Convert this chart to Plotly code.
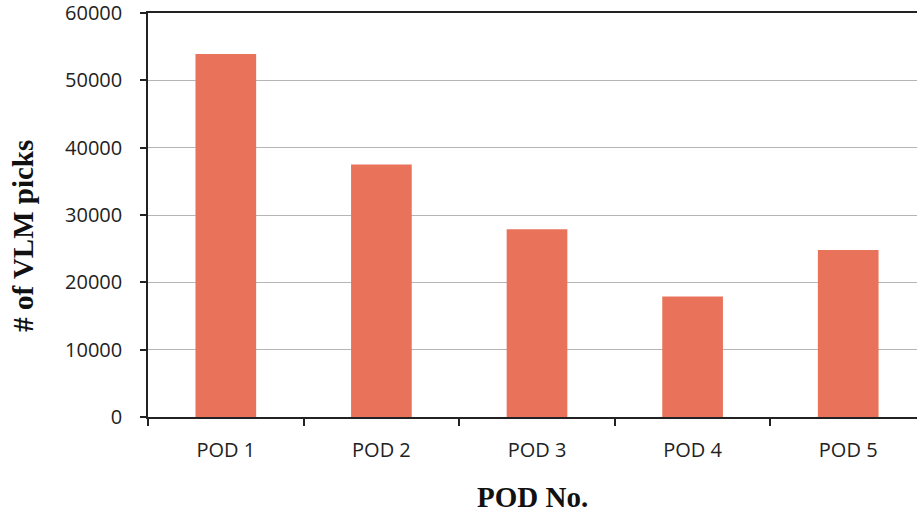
import plotly.graph_objects as go

categories = ["POD 1", "POD 2", "POD 3", "POD 4", "POD 5"]
vlm_picks = [53900, 37500, 27900, 17900, 24800]
y_ticks = [0, 10000, 20000, 30000, 40000, 50000, 60000]

fig = go.Figure()
fig.add_trace(go.Bar(
    x=categories, y=vlm_picks,
    marker=dict(color="#E9735A", line=dict(width=0)),
    width=0.39,
))

tick_font = dict(family="Open Sans, sans-serif", size=20, color="#222222")
title_font = dict(family="Liberation Serif, Times New Roman, serif", size=29, color="#111111")

# The reference plot area runs slightly past the right edge of the picture,
# and the figure is 20px taller at the top; the page is shifted up by 20px.
fig.update_layout(
    width=926, height=533,
    margin=dict(l=148, r=0, t=33, b=96),
    paper_bgcolor="white", plot_bgcolor="white",
    showlegend=False,
    xaxis=dict(
        type="category",
        tickson="boundaries",
        ticks="outside", ticklen=7, tickwidth=1.5, tickcolor="#222222",
        showline=True, linecolor="#222222", linewidth=1.5, mirror=True,
        showgrid=False,
        tickfont=tick_font,
        ticklabelstandoff=14,
    ),
    yaxis=dict(
        range=[0, 60000],
        tickvals=y_ticks,
        tickformat="d",
        ticks="outside", ticklen=6, tickwidth=1.5, tickcolor="#222222",
        showline=True, linecolor="#222222", linewidth=1.5,
        showgrid=True, gridcolor="#b5b5b5", gridwidth=1,
        zeroline=False,
        tickfont=tick_font,
        ticklabelstandoff=14,
    ),
)

fig.add_annotation(
    text="<b># of VLM picks</b>", textangle=-90,
    xref="paper", yref="paper", x=-0.161, y=0.448,
    xanchor="center", yanchor="middle", showarrow=False,
    font=title_font,
)
fig.add_annotation(
    text="<b>POD No.</b>",
    xref="paper", yref="paper", x=0.494, y=-0.198,
    xanchor="center", yanchor="middle", showarrow=False,
    font=title_font,
)

fig.write_html(
    "out.html",
    config={"displayModeBar": False},
    post_script="document.body.style.margin='0';document.body.style.marginTop='-20px';document.body.style.overflow='hidden';",
)
